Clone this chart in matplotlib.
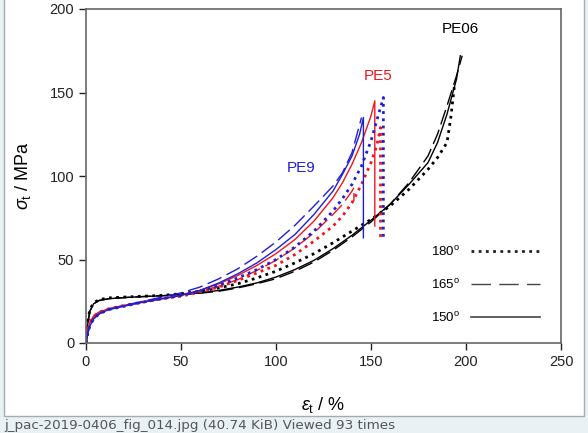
import matplotlib.pyplot as plt
from matplotlib.lines import Line2D
from matplotlib.patches import Rectangle

plt.rcParams['font.family'] = ['Liberation Sans', 'DejaVu Sans']
plt.rcParams['mathtext.fontset'] = 'custom'
plt.rcParams['mathtext.rm'] = 'Liberation Sans'
plt.rcParams['mathtext.it'] = 'Liberation Sans:italic'

# strain (%) / stress (MPa)
# PE06 (black)
pe06_150_x = [0, 1, 2, 4, 7, 12, 20, 30, 40, 50, 60, 70, 80, 90, 100, 110, 120, 130,
              140, 150, 160, 170, 180, 185, 190, 195, 197]
pe06_150_y = [0, 12, 19, 23.5, 25.5, 26.5, 27.2, 27.8, 28.3, 29, 30, 31.5, 33.5, 36,
              39.5, 44, 49.5, 56.5, 64.5, 73.5, 83, 95, 108, 120, 137, 158, 172]
pe06_165_x = [0, 1, 2, 4, 7, 12, 20, 30, 40, 50, 60, 70, 80, 90, 100, 110, 120, 130,
              140, 150, 160, 170, 180, 185, 190, 195, 198]
pe06_165_y = [0, 12, 19, 23.5, 25.5, 26.5, 27.2, 27.8, 28.3, 29, 29.8, 31, 33, 35.5,
              38.5, 43, 48.5, 55.5, 63.5, 72.5, 83, 96, 112, 125, 142, 160, 172]
pe06_180_x = [0, 1, 2, 4, 7, 12, 20, 30, 40, 50, 60, 70, 80, 90, 100, 110, 120, 130,
              140, 150, 160, 170, 180, 185, 190, 192, 194]
pe06_180_y = [0, 13, 20, 24, 26, 27, 27.5, 28, 28.5, 29.5, 31, 33, 35.5, 39, 43, 48,
              53.5, 60, 67, 74, 82, 92, 104, 111, 120, 135, 155]

# PE5 (red)
pe5_150_x = [0, 1, 2, 4, 7, 12, 20, 30, 40, 50, 60, 70, 80, 90, 100, 110, 120, 130,
             135, 140, 145, 150, 152, 152]
pe5_150_y = [0, 8, 12, 16, 18.5, 20.5, 22.5, 24.5, 26.5, 28.5, 31.5, 35.5, 40.5, 46.5,
             53.5, 62, 73, 87, 96, 107, 120, 136, 145, 70]
pe5_165_x = [0, 1, 2, 4, 7, 12, 20, 30, 40, 50, 60, 70, 80, 90, 100, 110, 120, 130,
             135, 140, 141, 141]
pe5_165_y = [0, 8, 12, 16, 18.5, 20.5, 22.5, 24.5, 26.5, 28.5, 31, 34, 38, 43.5, 49.5,
             57, 66, 77, 83, 91, 93, 85]
pe5_180_x = [0, 1, 2, 4, 7, 12, 20, 30, 40, 50, 60, 70, 80, 90, 100, 110, 120, 130,
             135, 140, 145, 150, 153, 155, 155]
pe5_180_y = [0, 8, 12, 16, 18.5, 20.5, 22.5, 24.5, 26.5, 28, 30.5, 33.5, 37.5, 42,
             46.5, 53, 61, 70, 76, 84, 95, 108, 118, 129, 63]

# PE9 (blue)
pe9_150_x = [0, 1, 2, 4, 7, 12, 20, 30, 40, 50, 60, 70, 80, 90, 100, 110, 120, 130,
             135, 140, 144, 146, 146]
pe9_150_y = [0, 6, 10, 14.5, 17.5, 20, 22, 24.5, 26.5, 28.5, 31.5, 36, 41.5, 48, 56,
             65, 77, 91, 101, 112, 125, 135, 63]
pe9_165_x = [0, 1, 2, 4, 7, 12, 20, 30, 40, 50, 60, 70, 80, 90, 100, 110, 120, 130,
             135, 140, 145]
pe9_165_y = [0, 6, 10, 14.5, 17.5, 20, 22.5, 25, 27.5, 30, 33.5, 38.5, 44.5, 52, 60.5,
             70.5, 82, 94, 102, 114, 135]
pe9_180_x = [0, 1, 2, 4, 7, 12, 20, 30, 40, 50, 60, 70, 80, 90, 100, 110, 120, 130,
             135, 140, 145, 150, 154, 156.5, 156.5]
pe9_180_y = [0, 6, 10, 14.5, 17.5, 20, 22, 24.5, 26.5, 28.5, 31, 34.5, 39, 44, 50, 57.5,
             67, 79, 86.5, 95, 106, 121, 137, 147, 63]

legend_labels = ['180$^{\\mathrm{o}}$', '165$^{\\mathrm{o}}$', '150$^{\\mathrm{o}}$']

RED = '#f0141e'
BLUE = '#1e1ed2'
DOT = (0, (1, 1.6))
DASH = (0, (11, 4))

fig = plt.figure(figsize=(5.88, 4.33), dpi=100, facecolor='#e9f1f5')
fig.patches.append(Rectangle((4 / 588, 1 - 416 / 433), 580 / 588, 416 / 433 + 0.01,
                             transform=fig.transFigure, facecolor='white',
                             edgecolor='#a3acb2', linewidth=1, zorder=-10))
fig.text(4 / 588, 1 - 426 / 433, 'j_pac-2019-0406_fig_014.jpg (40.74 KiB) Viewed 93 times',
         family='DejaVu Sans', fontsize=9.7, color='#555555', va='center', ha='left')

ax = fig.add_axes([86 / 588, 90 / 433, 475 / 588, 334 / 433])
ax.set_facecolor('white')

ax.plot(pe06_150_x, pe06_150_y, color='black', lw=1.0)
ax.plot(pe06_165_x, pe06_165_y, color='black', lw=1.0, linestyle=DASH)
ax.plot(pe06_180_x, pe06_180_y, color='black', lw=2.0, linestyle=DOT)

ax.plot(pe5_150_x, pe5_150_y, color=RED, lw=1.0)
ax.plot(pe5_165_x, pe5_165_y, color=RED, lw=1.0, linestyle=DASH)
ax.plot(pe5_180_x, pe5_180_y, color=RED, lw=2.0, linestyle=DOT)

ax.plot(pe9_150_x, pe9_150_y, color=BLUE, lw=1.0)
ax.plot(pe9_165_x, pe9_165_y, color=BLUE, lw=1.0, linestyle=DASH)
ax.plot(pe9_180_x, pe9_180_y, color=BLUE, lw=2.0, linestyle=DOT)

ax.text(197, 188, 'PE06', color='black', fontsize=11, ha='center', va='center')
ax.text(154, 160, 'PE5', color=RED, fontsize=11, ha='center', va='center')
ax.text(113, 105, 'PE9', color=BLUE, fontsize=11, ha='center', va='center')

handles = [Line2D([], [], color='#222222', lw=2.0, linestyle=DOT),
           Line2D([], [], color='#444444', lw=1.0, linestyle=(0, (14, 6))),
           Line2D([], [], color='#444444', lw=1.2)]
ax.legend(handles, legend_labels, loc='lower right', bbox_to_anchor=(0.98, 0.018),
          frameon=False, markerfirst=False, handlelength=5.2, labelspacing=1.45,
          fontsize=9.5, handletextpad=0.8)

ax.set_xlim(0, 250)
ax.set_ylim(0, 200)
ax.set_xticks([0, 50, 100, 150, 200, 250])
ax.set_yticks([0, 50, 100, 150, 200])
ax.tick_params(direction='out', length=5, width=1, labelsize=10.5, colors='#222222')
for s in ax.spines.values():
    s.set_color('#666666')
    s.set_linewidth(1.2)

ax.set_xlabel('$\\varepsilon_{\\mathrm{t}}$ / %', fontsize=13, labelpad=19)
ax.set_ylabel('$\\sigma_{\\mathrm{t}}$ / MPa', fontsize=13, labelpad=12)

fig.savefig('out.png', dpi=100, facecolor=fig.get_facecolor())
